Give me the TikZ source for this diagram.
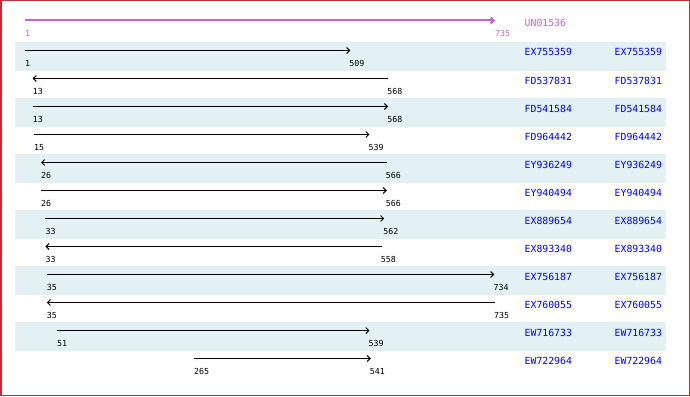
\documentclass[tikz,border=0pt]{standalone}
\usepackage{fontspec}
\setmonofont{DejaVu Sans Mono}
\usetikzlibrary{arrows.meta}
\definecolor{bordercol}{HTML}{C03030}
\definecolor{bandcol}{HTML}{E3F0F4}
\definecolor{rulercol}{HTML}{C864C8}
\definecolor{idcol}{HTML}{0000EE}
\tikzset{
  idtext/.style={anchor=base west, inner sep=0pt, text=idcol, font=\ttfamily\fontsize{9.8}{10}\selectfont},
  numtext/.style={anchor=base west, inner sep=0pt, font=\ttfamily\fontsize{8.3}{9}\selectfont},
  hit/.style={line width=1pt, black},
  tipr/.style={-{Straight Barb[length=3pt,width=6pt]}},
  tipl/.style={{Straight Barb[length=3pt,width=6pt]}-},
  band/.style={fill=bandcol, draw=none}
}
\newcommand{\posx}[1]{25+(#1-1)*0.640327}
\begin{document}
\begin{tikzpicture}[x=1pt,y=-1pt]
\useasboundingbox (0,0) rectangle (690,396);
\fill[white] (0,0) rectangle (690,396);
% bands
\foreach \k in {0,2,4,6,8,10}{
  \fill[band] (15,{42+28*\k}) rectangle (666,{42+28*\k+29});
}
% ruler
\coordinate (rs) at ({\posx{1}},20.5);
\coordinate (re) at ({\posx{735}},20.5);
\draw[line width=2pt, rulercol, -{Straight Barb[length=3pt,width=6pt]}] (rs) -- (re);
\node[numtext, text=rulercol] (rsl) at (25,36.5) {1};
\node[numtext, text=rulercol] (rel) at (495,37) {735};
\node[idtext, text=rulercol] (ruid) at (524.5,26.5) {UN01536};
% hits
\foreach \k/\s/\e/\d/\id in {
  0/1/509/r/EX755359,
  1/13/568/l/FD537831,
  2/13/568/r/FD541584,
  3/15/539/r/FD964442,
  4/26/566/l/EY936249,
  5/26/566/r/EY940494,
  6/33/562/r/EX889654,
  7/33/558/l/EX893340,
  8/35/734/r/EX756187,
  9/35/735/l/EX760055,
  10/51/539/r/EW716733,
  11/265/541/r/EW722964}{
  \coordinate (s\k) at ({\posx{\s}},{50.5+28*\k});
  \coordinate (e\k) at ({\posx{\e}},{50.5+28*\k});
  \if\d r
    \draw[hit, tipr] (s\k) -- (e\k);
  \else
    \draw[hit, tipl] (s\k) -- (e\k);
  \fi
  \node[numtext] (sl\k) at ({\posx{\s}},{66.5+28*\k}) {\s};
  \node[numtext] (el\k) at ({\posx{\e}-1},{66.5+28*\k}) {\e};
  \node[idtext] (ida\k) at (524.5,{56+28*\k}) {\id};
  \node[idtext] (idb\k) at (614.5,{56+28*\k}) {\id};
}
% border
\draw[bordercol, line width=1.5pt] (0.75,0.75) rectangle (689.25,395.25);
\end{tikzpicture}
\end{document}
